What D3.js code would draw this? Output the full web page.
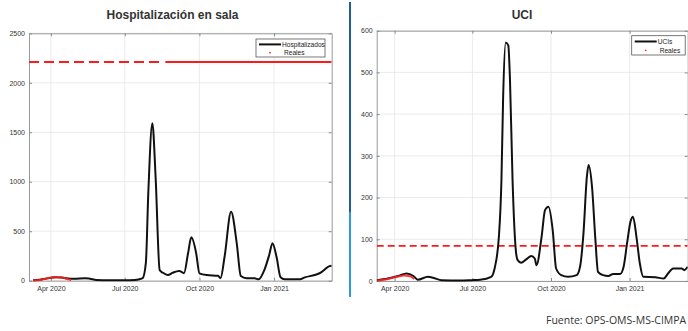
<!DOCTYPE html>
<html>
<head>
<meta charset="utf-8">
<script src="https://cdn.jsdelivr.net/npm/d3@7"></script>
<style>
  html, body { margin: 0; padding: 0; background: #fff; }
  svg { display: block; }
</style>
</head>
<body>
<svg id="chart" width="688" height="331"></svg>
<script>
// ---- Data ----
const hospDates = ["2020-03-10","2020-03-18","2020-03-25","2020-04-01","2020-04-07","2020-04-14","2020-04-22","2020-04-30","2020-05-13","2020-05-19","2020-05-27","2020-06-12","2020-07-01","2020-07-13","2020-07-19","2020-07-23","2020-07-27","2020-07-30","2020-08-04","2020-08-08","2020-08-13","2020-08-17","2020-08-23","2020-08-29","2020-09-06","2020-09-10","2020-09-12","2020-09-17","2020-09-21","2020-09-27","2020-10-01","2020-10-10","2020-10-24","2020-10-27","2020-11-01","2020-11-09","2020-11-16","2020-11-21","2020-11-28","2020-12-08","2020-12-13","2020-12-20","2020-12-26","2020-12-30","2021-01-04","2021-01-09","2021-01-14","2021-02-02","2021-02-08","2021-02-20","2021-02-26","2021-03-11","2021-03-13"];
const hospValues = [5,10,20,30,35,32,22,20,25,20,8,5,5,8,15,25,180,885,1590,1050,108,80,57,80,98,85,75,277,438,277,75,57,50,25,242,697,378,47,24,24,14,108,260,378,242,34,14,14,34,57,75,148,150];
const hospRealDates = ["2020-03-10","2020-03-20","2020-04-01","2020-04-08","2020-04-15","2020-04-22","2020-04-26"];
const hospRealValues = [2,10,30,35,32,15,8];
const hospCapacity = 2210;

const uciDates = ["2020-03-11","2020-03-24","2020-04-05","2020-04-15","2020-04-23","2020-04-28","2020-05-10","2020-05-16","2020-05-26","2020-06-16","2020-06-30","2020-07-10","2020-07-23","2020-07-27","2020-08-01","2020-08-04","2020-08-06","2020-08-09","2020-08-12","2020-08-14","2020-08-17","2020-08-21","2020-08-23","2020-08-27","2020-09-02","2020-09-08","2020-09-12","2020-09-14","2020-09-20","2020-09-24","2020-09-28","2020-10-03","2020-10-07","2020-10-13","2020-10-21","2020-10-31","2020-11-04","2020-11-08","2020-11-12","2020-11-14","2020-11-18","2020-11-22","2020-11-25","2020-12-01","2020-12-07","2020-12-13","2020-12-21","2020-12-25","2020-12-29","2021-01-02","2021-01-05","2021-01-09","2021-01-13","2021-01-17","2021-01-31","2021-02-10","2021-02-15","2021-02-21","2021-03-03","2021-03-06","2021-03-10"];
const uciValues = [2,6,12,18,12,3,10,8,2,1,2,3,10,30,106,242,442,572,565,482,242,70,50,44,52,60,54,38,106,170,178,122,30,14,10,14,34,114,250,278,226,98,22,14,12,17,17,34,90,142,154,106,42,10,9,6,18,30,30,26,34];
const uciRealDates = ["2020-03-11","2020-03-24","2020-04-05","2020-04-12","2020-04-18","2020-04-24"];
const uciRealValues = [1,5,11,13,12,5];
const uciCapacity = 84;

const hospYTicks = [0, 500, 1000, 1500, 2000, 2500];
const uciYTicks = [0, 100, 200, 300, 400, 500, 600];
const xTickDates = ["2020-04-01","2020-07-01","2020-10-01","2021-01-01"];
const xTickLabels = ["Apr 2020","Jul 2020","Oct 2020","Jan 2021"];

const parse = d3.timeParse("%Y-%m-%d");
const zip = (ds, vs) => ds.map((d, i) => ({ date: parse(d), value: vs[i] }));

const panels = [
  {
    title: "Hospitalización en sala",
    series: zip(hospDates, hospValues),
    real: zip(hospRealDates, hospRealValues),
    capacity: hospCapacity,
    capacitySolidFrom: parse("2020-08-20"),
    capacityDash: "10,5",
    seriesLabel: "Hospitalizados",
    xDomain: [parse("2020-03-05"), parse("2021-03-13")],
    yDomain: [0, 2500],
    yTicks: hospYTicks,
    box: { x0: 29, x1: 331.7, y0: 33.3, y1: 280.7 },
    titleX: 172.5,
    legend: { x: 256, y: 39, w: 69, h: 18 }
  },
  {
    title: "UCI",
    series: zip(uciDates, uciValues),
    real: zip(uciRealDates, uciRealValues),
    capacity: uciCapacity,
    capacitySolidFrom: null,
    capacityDash: "7,4",
    seriesLabel: "UCIs",
    xDomain: [parse("2020-03-11"), parse("2021-03-10")],
    yDomain: [0, 600],
    yTicks: uciYTicks,
    box: { x0: 376.7, x1: 687.7, y0: 30.7, y1: 281 },
    titleX: 522,
    legend: { x: 631.7, y: 35.7, w: 53.5, h: 19.3 }
  }
];

const svg = d3.select("#chart");
const FONT = "'Liberation Sans', Arial, Helvetica, sans-serif";

panels.forEach((p, idx) => {
  const b = p.box;
  const x = d3.scaleTime().domain(p.xDomain).range([b.x0, b.x1]);
  const y = d3.scaleLinear().domain(p.yDomain).range([b.y1, b.y0]);
  const g = svg.append("g");
  const clipId = "clip" + idx;
  svg.append("clipPath").attr("id", clipId)
    .append("rect").attr("x", b.x0).attr("y", b.y0 - 2)
    .attr("width", b.x1 - b.x0).attr("height", b.y1 - b.y0 + 3);

  // grid
  const grid = g.append("g").attr("stroke", "#e6e6e6").attr("stroke-width", 0.8);
  xTickDates.forEach(d => {
    const xx = x(parse(d));
    grid.append("line").attr("x1", xx).attr("x2", xx).attr("y1", b.y0).attr("y2", b.y1);
  });
  p.yTicks.forEach(v => {
    grid.append("line").attr("x1", b.x0).attr("x2", b.x1).attr("y1", y(v)).attr("y2", y(v));
  });

  // axes (ticks pointing inside, labels outside)
  const xAxis = d3.axisBottom(x)
    .tickValues(xTickDates.map(parse))
    .tickFormat((d, i) => xTickLabels[i])
    .tickSizeInner(-3).tickSizeOuter(0).tickPadding(5);
  const gx = g.append("g").attr("transform", `translate(0,${b.y1})`).call(xAxis);
  const xAxisTop = d3.axisTop(x).tickValues(xTickDates.map(parse)).tickFormat("")
    .tickSizeInner(-3).tickSizeOuter(0);
  const gxt = g.append("g").attr("transform", `translate(0,${b.y0})`).call(xAxisTop);
  const yAxis = d3.axisLeft(y).tickValues(p.yTicks).tickFormat(d3.format("d"))
    .tickSizeInner(-3).tickSizeOuter(0).tickPadding(4);
  const gy = g.append("g").attr("transform", `translate(${b.x0},0)`).call(yAxis);
  const yAxisRight = d3.axisRight(y).tickValues(p.yTicks).tickFormat("")
    .tickSizeInner(-3).tickSizeOuter(0);
  const gyr = g.append("g").attr("transform", `translate(${b.x1},0)`).call(yAxisRight);
  [gx, gxt, gy, gyr].forEach(a => {
    a.select(".domain").attr("stroke", "#9a9a9a").attr("stroke-width", 1);
    a.selectAll(".tick line").attr("stroke", "#8a8a8a");
    a.selectAll("text").attr("font-family", FONT).attr("font-size", 7).attr("fill", "#333");
  });

  // capacity line
  const cap = g.append("g").attr("clip-path", `url(#${clipId})`);
  if (p.capacitySolidFrom) {
    cap.append("line")
      .attr("x1", b.x0).attr("x2", x(p.capacitySolidFrom) - 3)
      .attr("y1", y(p.capacity)).attr("y2", y(p.capacity))
      .attr("stroke", "#ff1a1a").attr("stroke-width", 2)
      .attr("stroke-dasharray", p.capacityDash);
    cap.append("line")
      .attr("x1", x(p.capacitySolidFrom)).attr("x2", b.x1)
      .attr("y1", y(p.capacity)).attr("y2", y(p.capacity))
      .attr("stroke", "#ff1a1a").attr("stroke-width", 2);
  } else {
    cap.append("line")
      .attr("x1", b.x0).attr("x2", b.x1)
      .attr("y1", y(p.capacity)).attr("y2", y(p.capacity))
      .attr("stroke", "#ff1a1a").attr("stroke-width", 1.8)
      .attr("stroke-dasharray", p.capacityDash);
  }

  const line = d3.line().x(d => x(d.date)).y(d => y(d.value)).curve(d3.curveMonotoneX);

  // main series
  cap.append("path").datum(p.series)
    .attr("d", line).attr("fill", "none")
    .attr("stroke", "#111").attr("stroke-width", 2).attr("stroke-linejoin", "round");

  // observed values
  cap.append("path").datum(p.real)
    .attr("d", line).attr("fill", "none")
    .attr("stroke", "#ff2020").attr("stroke-width", 2).attr("opacity", 0.9);

  // title
  g.append("text").attr("x", p.titleX).attr("y", 19)
    .attr("text-anchor", "middle").attr("font-family", FONT)
    .attr("font-weight", "bold").attr("font-size", 12).attr("fill", "#333")
    .text(p.title);

  // legend
  const L = p.legend;
  const lg = g.append("g");
  lg.append("rect").attr("x", L.x).attr("y", L.y).attr("width", L.w).attr("height", L.h)
    .attr("fill", "#fff").attr("stroke", "#555").attr("stroke-width", 0.8);
  const row1 = L.y + L.h * 0.3, row2 = L.y + L.h * 0.76;
  lg.append("line").attr("x1", L.x + 3).attr("x2", L.x + 25)
    .attr("y1", row1).attr("y2", row1).attr("stroke", "#111").attr("stroke-width", 2);
  lg.append("circle").attr("cx", L.x + 14).attr("cy", row2).attr("r", 0.9).attr("fill", "#ff3030");
  lg.append("text").attr("x", L.x + 26).attr("y", row1 + 2.3)
    .attr("font-family", FONT).attr("font-size", 6.6).attr("fill", "#222").text(p.seriesLabel);
  lg.append("text").attr("x", L.x + 28).attr("y", row2 + 2.3)
    .attr("font-family", FONT).attr("font-size", 6.6).attr("fill", "#222").text("Reales");
});

// divider between panels
svg.append("line").attr("x1", 350).attr("x2", 350).attr("y1", 2).attr("y2", 212)
  .attr("stroke", "#1f5c99").attr("stroke-width", 2);
svg.append("line").attr("x1", 350).attr("x2", 350).attr("y1", 212).attr("y2", 297)
  .attr("stroke", "#2a9de0").attr("stroke-width", 2);

// source note
svg.append("text").attr("x", 546).attr("y", 324)
  .attr("font-family", "'Open Sans', 'Noto Sans', sans-serif").attr("font-size", 10.5)
  .attr("fill", "#333").text("Fuente: OPS-OMS-MS-CIMPA");
</script>
</body>
</html>
